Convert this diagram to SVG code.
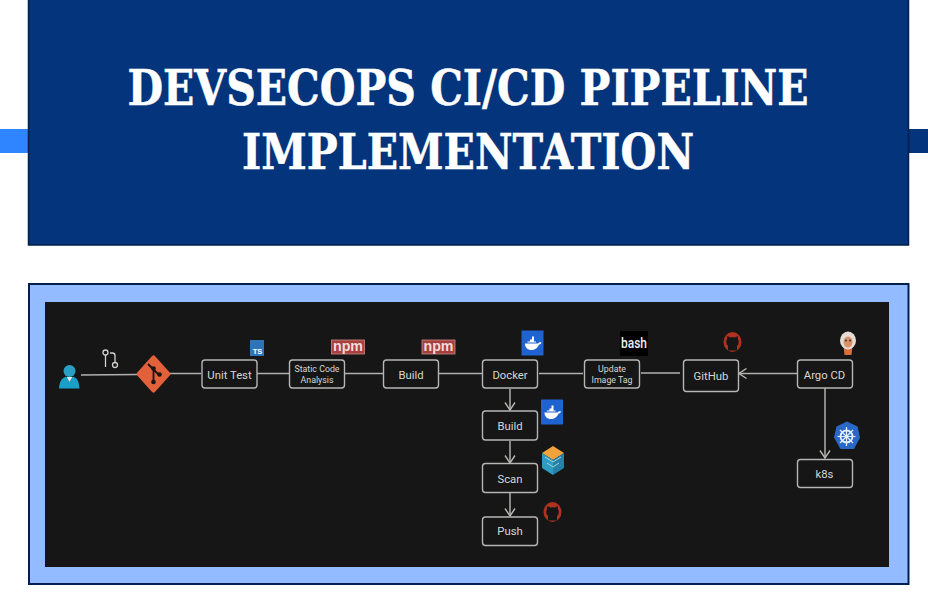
<svg xmlns="http://www.w3.org/2000/svg" width="928" height="592" viewBox="0 0 928 592">
<style>
.box{fill:#161616;stroke:#b5b5b3;stroke-width:1.4}
.lbl{font-family:Roboto,"Liberation Sans",Arial,sans-serif;fill:#d6d6d4;text-anchor:middle;font-size:11.300px}
.sm{font-size:8.800px}
.ln{stroke:#b0b0ae;stroke-width:1.5;fill:none}
.ttl{font-family:"DejaVu Serif","Liberation Serif",serif;font-weight:bold;font-size:48px;fill:#fff;stroke:#fff;stroke-width:0.500px;text-anchor:middle}
.npm{font-family:"Liberation Sans",Arial,sans-serif;font-weight:bold;font-size:15px;fill:#f0dcdc;text-anchor:middle}
</style>
<defs>
<marker id="arr" markerWidth="10" markerHeight="12" refX="8.500" refY="6" orient="auto" markerUnits="userSpaceOnUse"><path d="M1 1L8.500 6L1 11" fill="none" stroke="#b5b5b3" stroke-width="1.400"/></marker>
<g id="docker"><rect x="-11" y="-12.500" width="22" height="25" fill="#1f63d0"/><path d="M-7.500 0.500H5.500C6.500 -1 8 -1 9 -0.500C8.500 1 7.500 1.500 6.500 1.500C5 5.500 2 7 -1 7C-5 7 -7.500 4.500 -7.500 0.500Z" fill="#fff"/><path d="M-5 -1.500H-2.500V-3.500H-0.500V-6.500H1.500V-1.500H3.500V-0.500H-5Z" fill="#fff"/></g>
<g id="npmi"><rect x="-16.500" y="-7" width="33" height="14" fill="#a8403f" stroke="#c98a88" stroke-width="0.800"/><text class="npm" x="0" y="3.800" textLength="30" lengthAdjust="spacingAndGlyphs">npm</text></g>
<g id="gh"><ellipse rx="9" ry="10" fill="#b0311f"/><path d="M-4.500 8.500V4C-6.500 2.500 -6.800 -1 -5.400 -3L-5.200 -6L-2.400 -4.400C-0.800 -4.800 0.800 -4.800 2.400 -4.400L5.200 -6L5.400 -3C6.800 -1 6.500 2.500 4.500 4V8.500Z" fill="#161616"/><path d="M-4.500 3.800L-8 2.500L-7.500 5L-4.500 6Z" fill="#b0311f"/></g>
</defs>
<rect width="928" height="592" fill="#fff"/>
<rect x="0" y="129" width="29" height="24" fill="#2f84ff"/>
<rect x="908" y="129" width="20" height="24" fill="#03347c"/>
<g id="title"><rect x="28.500" y="-2" width="880" height="247" fill="#03347c" stroke="#021f4d" stroke-width="1.500"/>
<text class="ttl" x="468" y="105" textLength="681" lengthAdjust="spacingAndGlyphs">DEVSECOPS CI/CD PIPELINE</text>
<text class="ttl" x="468" y="169" textLength="452" lengthAdjust="spacingAndGlyphs">IMPLEMENTATION</text></g>
<rect x="29" y="284" width="879.500" height="300" fill="#93bbff" stroke="#021f4d" stroke-width="2"/>
<rect x="45" y="302" width="844" height="265" fill="#161616"/>
<g id="connectors">
<path class="ln" d="M81 375L138 374.500M170 373.500H201M257 373.500H289M345 373.500H383M439 373.500H482M539 373.500H583M641 373H680"/>
<path class="ln" d="M797 373.500H739" marker-end="url(#arr)"/>
<path class="ln" d="M825 388V458" marker-end="url(#arr)"/>
<path class="ln" d="M510 389V410" marker-end="url(#arr)"/>
<path class="ln" d="M510 441V463" marker-end="url(#arr)"/>
<path class="ln" d="M510 493V516" marker-end="url(#arr)"/>
</g>
<g id="user"><circle cx="69.500" cy="371" r="6" fill="#2a9fc4"/><path d="M59 388.500C59.500 381 62 378 66 376.500L69.500 382L73 376.500C77 378 79 381 79.500 388.500Z" fill="#1aa0c8"/><path d="M66.500 377H72.500L69.500 382Z" fill="#d8eef5"/></g>
<g id="branch" fill="none" stroke="#d0d0ce" stroke-width="1.300"><circle cx="105.500" cy="352.500" r="2.500"/><path d="M105.500 355V367"/><circle cx="115" cy="365" r="2.500"/><path d="M115 362.500V355.500Q115 353 112.500 353H110"/></g>
<g id="git"><rect x="-12.500" y="-12.500" width="25" height="25" rx="2" transform="translate(153.500 374) scale(1 1.100) rotate(45)" fill="#e2603a"/><path d="M148 364L159 375M153.500 369V382" stroke="#161616" stroke-width="1.800" fill="none"/><circle cx="153.500" cy="382" r="2.300" fill="#161616"/><circle cx="159.500" cy="374.500" r="2.300" fill="#161616"/><circle cx="153.500" cy="368.500" r="2.300" fill="#161616"/></g>
<g id="unit-test"><rect class="box" x="202" y="360" width="55" height="28" rx="3"/><text class="lbl" x="229.500" y="378.500">Unit Test</text>
<rect x="250" y="340" width="14" height="16" fill="#2f74ba"/><text x="257.500" y="354" font-family="Liberation Sans,sans-serif" font-weight="bold" font-size="7.500" fill="#fff" text-anchor="middle">TS</text></g>
<g id="static-code"><rect class="box" x="289.500" y="360" width="55" height="28" rx="3"/><text class="lbl sm" x="317" y="371.500">Static Code</text><text class="lbl sm" x="317" y="383">Analysis</text><use href="#npmi" x="348" y="347"/></g>
<g id="build-npm"><rect class="box" x="383.500" y="360" width="55" height="28" rx="3"/><text class="lbl" x="411" y="378.500">Build</text><use href="#npmi" x="438.500" y="347"/></g>
<g id="docker-node"><rect class="box" x="482.500" y="360" width="55" height="28" rx="3"/><text class="lbl" x="510" y="378.500">Docker</text><use href="#docker" x="532.500" y="343"/></g>
<g id="update-tag"><rect class="box" x="584.500" y="360" width="55" height="28" rx="3"/><text class="lbl sm" x="612" y="371.500">Update</text><text class="lbl sm" x="612" y="383">Image Tag</text>
<rect x="620" y="331" width="28" height="25" fill="#000"/><text x="634" y="348" font-family="Roboto,sans-serif" font-size="14" font-weight="500" fill="#eee" text-anchor="middle" textLength="26" lengthAdjust="spacingAndGlyphs">bash</text></g>
<g id="github"><rect class="box" x="683.500" y="360" width="55" height="31.500" rx="3"/><text class="lbl" x="711" y="380">GitHub</text><use href="#gh" x="732.500" y="342"/></g>
<g id="argo"><rect class="box" x="797.500" y="360" width="55" height="28" rx="3"/><text class="lbl" x="824.500" y="378.500">Argo CD</text>
<path d="M843.500 346H852.500L851.500 355H844.500Z" fill="#d9703a"/><ellipse cx="848" cy="340.500" rx="8" ry="9" fill="#e6dcd4"/><ellipse cx="848" cy="342" rx="4.500" ry="5.500" fill="#d89468"/><circle cx="846" cy="340.500" r="1" fill="#333"/><circle cx="850" cy="340.500" r="1" fill="#333"/></g>
<g id="k8s"><rect class="box" x="797.500" y="459.500" width="55" height="28" rx="3"/><text class="lbl" x="824.500" y="478">k8s</text>
<path d="M847 421.500L857.500 426.500L860 437.500L854 449L840.500 449L834 437.500L836.500 426.500Z" fill="#2a68c8"/><circle cx="846.500" cy="436.500" r="6" fill="none" stroke="#e6eefb" stroke-width="1.800"/><path d="M846.500 427V446M837.500 436.500H855.500M840 430L853 443M853 430L840 443" stroke="#e6eefb" stroke-width="1.200"/></g>
<g id="build"><rect class="box" x="482.500" y="411" width="55" height="29" rx="3"/><text class="lbl" x="510" y="430">Build</text><use href="#docker" x="552" y="412"/></g>
<g id="scan"><rect class="box" x="482.500" y="463.500" width="55" height="29" rx="3"/><text class="lbl" x="510" y="483">Scan</text>
<path d="M553 446L564 453L553 460L542 453Z" fill="#f0a23c"/><path d="M542 453L553 460V475L542 468Z" fill="#2f9cc4"/><path d="M564 453L553 460V475L564 468Z" fill="#2680a8"/><path d="M545 457L553 462L561 457M547 463L553 467L559 463" fill="none" stroke="#9fd4dc" stroke-width="1"/></g>
<g id="push"><rect class="box" x="482.500" y="517" width="55" height="28.500" rx="3"/><text class="lbl" x="510" y="535">Push</text><use href="#gh" x="552.500" y="512"/></g>
</svg>
